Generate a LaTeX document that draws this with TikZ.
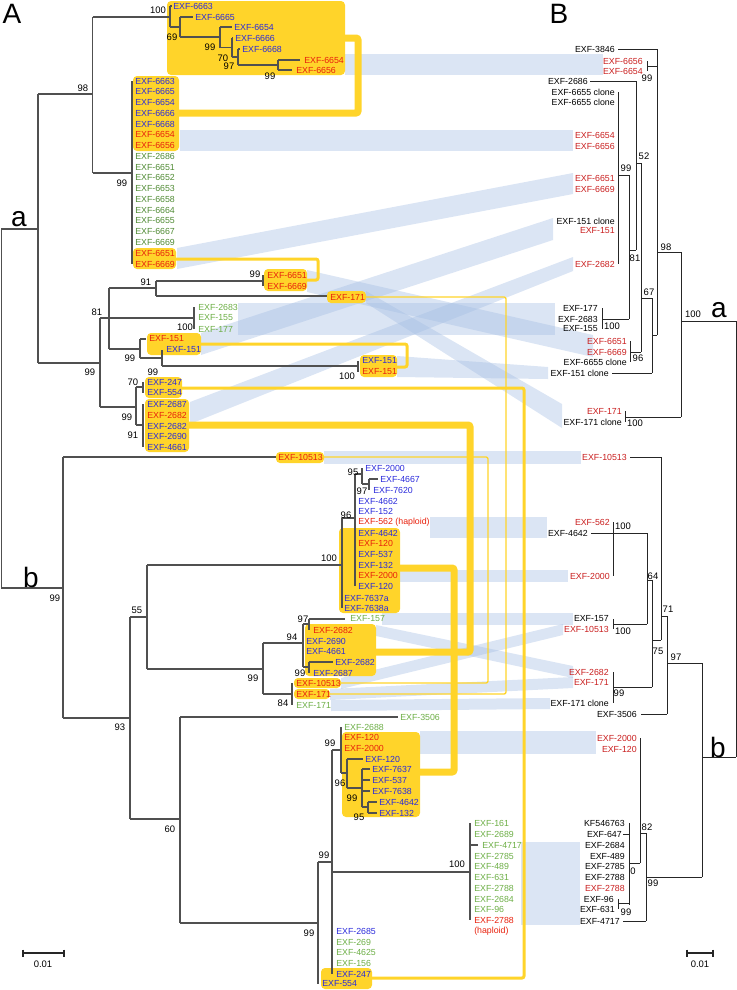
\documentclass[tikz,border=0pt]{standalone}
\usepackage{fontspec}
\setmainfont{Liberation Sans}
\definecolor{hlyel}{HTML}{FFD42A}
\definecolor{bandc}{HTML}{A5BEE3}
\definecolor{lblue}{HTML}{2A2ADB}
\definecolor{lred}{HTML}{E8200C}
\definecolor{bred}{HTML}{C91E1E}
\definecolor{lgreen}{HTML}{4F8A33}
\definecolor{lgreen2}{HTML}{6CAE45}
\definecolor{treeA}{HTML}{505050}
\definecolor{treeB}{HTML}{262626}
\newcommand{\lfont}{\fontsize{6.6}{8}\selectfont}
\newcommand{\nfont}{\fontsize{7.1}{8}\selectfont}
\newcommand{\bigfont}{\fontsize{21}{24}\selectfont}

\begin{document}
\begin{tikzpicture}[x=0.75pt,y=-0.75pt,
  la/.style={anchor=west,inner sep=0,font=\lfont},
  lb/.style={anchor=east,inner sep=0,font=\lfont},
  lbl/.style={la,text=lblue}, lrd/.style={la,text=lred}, lgn/.style={la,text=lgreen}, llg/.style={la,text=lgreen2},
  rbk/.style={lb,text=black}, rrd/.style={lb,text=bred},
  bs/.style={inner sep=0,font=\nfont},
  bra/.style={treeA,line width=1pt},
  brb/.style={treeB,line width=0.75pt},
  hl/.style={fill=hlyel,rounded corners=3pt},
  lk/.style={draw=hlyel,rounded corners=1.5pt},
  band/.style={fill=bandc,opacity=0.4}]
\useasboundingbox (0,0) rectangle (737,990);
\fill[band] (345,54) rectangle (603,75); \fill[band] (180,130) rectangle (573,151);
\fill[band] (177,248) -- (573,173) -- (573,194) -- (177,269) -- cycle;
\fill[band] (201,333) -- (553,218) -- (553,240) -- (201,355) -- cycle;
\fill[band] (190,402) -- (573,257) -- (573,271) -- (190,424) -- cycle;
\fill[band] (238,303) rectangle (555,335);
\fill[band] (397,356) -- (548,367) -- (548,379) -- (397,377) -- cycle;
\fill[band] (366,291) -- (562,404) -- (562,428) -- (366,303) -- cycle;
\fill[band] (307,270) -- (593,335) -- (593,357) -- (307,292) -- cycle;
\fill[band] (324,451) rectangle (581,464); \fill[band] (430,517) rectangle (547,538);
\fill[band] (400,570) rectangle (568,582); \fill[band] (382,613) rectangle (573,625);
\fill[band] (376,625) -- (573,666) -- (573,678) -- (376,636) -- cycle;
\fill[band] (341,678) -- (563,624) -- (563,635) -- (341,689) -- cycle;
\fill[band] (330,689) -- (573,677) -- (573,688) -- (330,700) -- cycle;
\fill[band] (331,700) -- (550,698) -- (550,709) -- (331,711) -- cycle;
\fill[band] (420,731) rectangle (596,754); \fill[band] (521,842) rectangle (580,925);
\fill[hl] (167,1) rectangle (345,75); \fill[hl] (133,76) rectangle (179,151); \fill[hl] (133,248) rectangle (176,269);
\fill[hl] (264,269) rectangle (307,291); \fill[hl] (327,291) rectangle (366,303);
\fill[hl] (147,333) rectangle (201,355); \fill[hl] (360,355) rectangle (397,377);
\fill[hl] (145,377) rectangle (182,398); \fill[hl] (145,399) rectangle (189,452);
\fill[hl] (276,452) rectangle (324,463); \fill[hl] (339,528) rectangle (400,613);
\fill[hl] (305,624) rectangle (376,676); \fill[hl] (294,678) rectangle (341,688); \fill[hl] (294,689) rectangle (330,699);
\fill[hl] (342,732) rectangle (420,817); \fill[hl] (321,968) rectangle (372,989);
\draw[lk,line width=5.25pt] (179,113) -- (358,113) -- (358,38) -- (345,38);
\draw[lk,line width=2.25pt] (176,259) -- (318,259) -- (318,280) -- (307,280);
\draw[lk,line width=1pt] (366,297) -- (506,297) -- (506,694) -- (330,694);
\draw[lk,line width=2.25pt] (201,344) -- (407,344) -- (407,367) -- (397,367);
\draw[lk,line width=2.25pt] (182,388) -- (524,388) -- (524,978) -- (372,978);
\draw[lk,line width=5.25pt] (189,425) -- (470,425) -- (470,652) -- (376,652);
\draw[lk,line width=1pt] (324,457) -- (488,457) -- (488,683) -- (341,683);
\draw[lk,line width=5.25pt] (400,568) -- (454,568) -- (454,772) -- (420,772);
\draw[bra] (38,229) -- (1.5,229) -- (1.5,588) -- (63,588) (38,94) -- (38,363) (38,94) -- (92.7,94) (38,363) -- (100,363) (92.7,17) -- (92.7,173)
 (92.7,17) -- (170,17) (170,6) -- (170,27) (170,6) -- (172,6) (170,27) -- (180,27) (180,17) -- (180,37) (180,17) -- (193,17) (180,37) -- (220,37)
 (220,27) -- (220,47.5) (220,27) -- (232,27) (220,47.5) -- (232,47.5) (232,38) -- (232,57) (232,38) -- (233,38) (232,57) -- (238,57)
 (238,49) -- (238,65) (238,49) -- (240,49) (238,65) -- (278,65) (278,60) -- (278,70) (278,60) -- (300,60) (278,70) -- (292,70)
 (92.7,173) -- (132,173) (132,81) -- (132,264)
 (100,318) -- (100,407) (100,318) -- (109,318) (109,288) -- (109,349) (109,288) -- (156,288) (156,281) -- (156,296) (156,281) -- (263,281) (263,275) -- (263,286) (156,296) -- (327,296)
 (109,318) -- (194,318) (194,307) -- (194,329)
 (109,349) -- (140,349) (140,339) -- (140,358) (140,339) -- (146,339) (140,358) -- (162,358) (162,350) -- (162,366) (162,366) -- (358,366) (358,361) -- (358,372)
 (100,407) -- (136,407) (136,387) -- (136,425) (136,387) -- (143,387) (143,382) -- (143,393) (136,425) -- (143,425) (143,404) -- (143,447)
 (63,457) -- (63,718) (63,457) -- (276,457) (63,718) -- (130,718) (130,617) -- (130,819)
 (130,617) -- (147,617) (147,565) -- (147,669) (147,565) -- (342,565) (342,518) -- (342,608) (342,518) -- (355,518) (355,474) -- (355,586)
 (355,474) -- (362,474) (362,468) -- (362,484) (362,484) -- (369,484) (369,479) -- (369,490) (369,479) -- (378,479)
 (147,669) -- (263,669) (263,643) -- (263,694) (263,643) -- (303,643) (303,624) -- (303,667) (303,624) -- (309,624) (309,619) -- (309,630) (309,619) -- (345,619)
 (303,667) -- (309,667) (309,662) -- (309,673) (309,662) -- (333,662) (263,694) -- (292,694) (292,683) -- (292,705)
 (130,819) -- (180,819) (180,717) -- (180,923) (180,717) -- (398,717) (180,923) -- (318,923) (318,862) -- (318,984) (318,862) -- (332,862)
 (332,750) -- (332,974) (332,750) -- (341,750) (341,727) -- (341,773) (341,773) -- (347,773) (347,759) -- (347,788) (347,759) -- (363,759)
 (347,788) -- (362,788) (362,769) -- (362,807) (362,769) -- (370,769) (362,780) -- (370,780) (362,791) -- (370,791) (362,807) -- (368,807)
 (368,802) -- (368,813) (368,802) -- (377,802) (368,813) -- (377,813) (332,872) -- (470,872) (470,823) -- (470,920) (470,845) -- (478,845);
\draw[brb] (618,49) -- (657,49) (647,61) -- (647,71) (647,66) -- (657,66) (657,49) -- (657,335) (657,252) -- (681,252)
 (590,81) -- (636,81) (636,81) -- (636,250) (636,163) -- (641,163) (641,163) -- (641,352) (641,298) -- (652,298)
 (618,92) -- (618,264) (618,175) -- (629,175) (629,175) -- (629,319) (629,250) -- (636,250) (602,319) -- (629,319) (602,308) -- (602,329)
 (630,341) -- (630,362) (630,352) -- (641,352) (652,298) -- (652,373) (612,373) -- (652,373) (652,335) -- (657,335)
 (681,252) -- (681,417) (681,321) -- (736,321) (625,411) -- (625,422) (625,417) -- (681,417) (736,321) -- (736,757) (702,757) -- (736,757)
 (630,457) -- (661,457) (661,457) -- (661,640) (661,616) -- (667,616) (667,616) -- (667,714) (641,714) -- (667,714) (667,663) -- (702,663) (702,663) -- (702,877)
 (652,580) -- (652,687) (652,640) -- (661,640) (647,580) -- (652,580) (647,533) -- (647,624) (591,533) -- (647,533) (613,522) -- (613,576)
 (613,624) -- (647,624) (613,619) -- (613,629) (613,687) -- (652,687) (613,672) -- (613,703)
 (640,738) -- (640,863) (640,833) -- (646,833) (646,833) -- (646,921) (646,877) -- (702,877) (623,921) -- (646,921) (629,863) -- (640,863)
 (629,823) -- (629,905) (623,834) -- (629,834) (618,903) -- (629,903) (618,899) -- (618,909);
\draw[treeB,line width=1.1pt] (23,953) -- (64,953) (23,949.5) -- (23,956.5) (64,949.5) -- (64,956.5);
\draw[treeB,line width=1.1pt] (687,953) -- (713,953) (687,949.5) -- (687,956.5) (713,949.5) -- (713,956.5);
\node[font=\bigfont,inner sep=0] (capA) at (12,14) {A}; \node[font=\bigfont,inner sep=0] (capB) at (559,14) {B};
\node[font=\bigfont,inner sep=0] (subAa) at (19,219) {a}; \node[font=\bigfont,inner sep=0] (subAb) at (31,577) {b};
\node[font=\bigfont,inner sep=0] (subBa) at (719,310) {a}; \node[font=\bigfont,inner sep=0] (subBb) at (718,747) {b};
\node[bs] (scA) at (43,964) {0.01}; \node[bs] (scB) at (700,964) {0.01};
\node[lbl] (t1) at (173,6) {EXF-6663}; \node[lbl] (t2) at (195,17) {EXF-6665}; \node[lbl] (t3) at (234,27) {EXF-6654};
\node[lbl] (t4) at (235,38) {EXF-6666}; \node[lbl] (t5) at (242,49) {EXF-6668}; \node[lrd] (t6) at (304,60) {EXF-6654}; \node[lrd] (t7) at (296,70) {EXF-6656};
\node[lbl] (s1) at (135,81) {EXF-6663}; \node[lbl] (s2) at (135,91.8) {EXF-6665}; \node[lbl] (s3) at (135,102.5) {EXF-6654};
\node[lbl] (s4) at (135,113.3) {EXF-6666}; \node[lbl] (s5) at (135,124) {EXF-6668}; \node[lrd] (s6) at (135,134.8) {EXF-6654};
\node[lrd] (s7) at (135,145.6) {EXF-6656}; \node[lgn] (s8) at (135,156.3) {EXF-2686}; \node[lgn] (s9) at (135,167.1) {EXF-6651};
\node[lgn] (s10) at (135,177.9) {EXF-6652}; \node[lgn] (s11) at (135,188.6) {EXF-6653}; \node[lgn] (s12) at (135,199.4) {EXF-6658};
\node[lgn] (s13) at (135,210.1) {EXF-6664}; \node[lgn] (s14) at (135,220.9) {EXF-6655}; \node[lgn] (s15) at (135,231.7) {EXF-6667};
\node[lgn] (s16) at (135,242.4) {EXF-6669}; \node[lrd] (s17) at (135,253.2) {EXF-6651}; \node[lrd] (s18) at (135,264) {EXF-6669};
\node[lrd] (u1) at (267,275) {EXF-6651}; \node[lrd] (u2) at (267,286) {EXF-6669}; \node[lrd] (u3) at (330,297) {EXF-171};
\node[llg] (u4) at (198,307) {EXF-2683}; \node[llg] (u5) at (198,318) {EXF-155}; \node[llg] (u6) at (198,329) {EXF-177};
\node[lrd] (u7) at (149,339) {EXF-151}; \node[lbl] (u8) at (166,350) {EXF-151}; \node[lbl] (u9) at (362,361) {EXF-151}; \node[lrd] (u10) at (362,372) {EXF-151};
\node[lbl] (u11) at (147,382) {EXF-247}; \node[lbl] (u12) at (147,393) {EXF-554}; \node[lbl] (u13) at (147,404) {EXF-2687};
\node[lrd] (u14) at (147,415) {EXF-2682}; \node[lbl] (u15) at (147,426) {EXF-2682}; \node[lbl] (u16) at (147,436) {EXF-2690}; \node[lbl] (u17) at (147,447) {EXF-4661};
\node[lrd] (u18) at (278,457) {EXF-10513};
\node[lbl] (m1) at (365,468) {EXF-2000}; \node[lbl] (m2) at (380,479) {EXF-4667}; \node[lbl] (m3) at (373,490) {EXF-7620};
\node[lbl] (m4) at (358,501) {EXF-4662}; \node[lbl] (m5) at (358,511) {EXF-152}; \node[lrd] (m6) at (358,522) {EXF-562 (haploid)};
\node[lbl] (m7) at (358,533) {EXF-4642}; \node[lrd] (m8) at (358,543) {EXF-120}; \node[lbl] (m9) at (358,554) {EXF-537};
\node[lbl] (m10) at (358,565) {EXF-132}; \node[lrd] (m11) at (358,575) {EXF-2000}; \node[lbl] (m12) at (358,586) {EXF-120};
\node[lbl] (m13) at (344,598) {EXF-7637a}; \node[lbl] (m14) at (344,608) {EXF-7638a};
\node[llg] (n1) at (350,619) {EXF-157}; \node[lrd] (n2) at (313,630) {EXF-2682}; \node[lbl] (n3) at (306,641) {EXF-2690};
\node[lbl] (n4) at (306,651) {EXF-4661}; \node[lbl] (n5) at (335,662) {EXF-2682}; \node[lbl] (n6) at (313,673) {EXF-2687};
\node[lrd] (n7) at (296,683) {EXF-10513}; \node[lrd] (n8) at (296,694) {EXF-171}; \node[llg] (n9) at (296,705) {EXF-171};
\node[llg] (n10) at (400,717) {EXF-3506};
\node[llg] (p1) at (344,727) {EXF-2688}; \node[lrd] (p2) at (344,737) {EXF-120}; \node[lrd] (p3) at (344,748) {EXF-2000};
\node[lbl] (p4) at (365,759) {EXF-120}; \node[lbl] (p5) at (372,769) {EXF-7637}; \node[lbl] (p6) at (372,780) {EXF-537};
\node[lbl] (p7) at (372,791) {EXF-7638}; \node[lbl] (p8) at (379,802) {EXF-4642}; \node[lbl] (p9) at (379,813) {EXF-132};
\node[llg] (q1) at (474,823) {EXF-161}; \node[llg] (q2) at (474,834) {EXF-2689}; \node[llg] (q3) at (482,845) {EXF-4717};
\node[llg] (q4) at (474,856) {EXF-2785}; \node[llg] (q5) at (474,866) {EXF-489}; \node[llg] (q6) at (474,877) {EXF-631};
\node[llg] (q7) at (474,888) {EXF-2788}; \node[llg] (q8) at (474,899) {EXF-2684}; \node[llg] (q9) at (474,909) {EXF-96};
\node[lrd] (q10) at (474,920) {EXF-2788}; \node[lrd] (q11) at (474,931) {(haploid)};
\node[lbl] (r1) at (336,931) {EXF-2685}; \node[llg] (r2) at (336,942) {EXF-269}; \node[llg] (r3) at (336,952) {EXF-4625};
\node[llg] (r4) at (336,963) {EXF-156}; \node[lbl] (r5) at (336,974) {EXF-247}; \node[lbl] (r6) at (322,984) {EXF-554};
\node[rbk] (w1) at (615,49) {EXF-3846}; \node[rrd] (w2) at (643,61) {EXF-6656}; \node[rrd] (w3) at (643,71) {EXF-6654};
\node[rbk] (w4) at (588,81) {EXF-2686}; \node[rbk] (w5) at (615,92) {EXF-6655 clone}; \node[rbk] (w6) at (615,102) {EXF-6655 clone};
\node[rrd] (w7) at (615,135) {EXF-6654}; \node[rrd] (w8) at (615,146) {EXF-6656}; \node[rrd] (w9) at (615,178) {EXF-6651};
\node[rrd] (w10) at (615,189) {EXF-6669}; \node[rbk] (w11) at (615,221) {EXF-151 clone}; \node[rrd] (w12) at (615,231) {EXF-151};
\node[rrd] (w13) at (615,264) {EXF-2682}; \node[rbk] (w14) at (598,308) {EXF-177}; \node[rbk] (w15) at (598,319) {EXF-2683};
\node[rbk] (w16) at (598,329) {EXF-155}; \node[rrd] (w17) at (627,341) {EXF-6651}; \node[rrd] (w18) at (627,352) {EXF-6669};
\node[rbk] (w19) at (627,362) {EXF-6655 clone}; \node[rbk] (w20) at (609,373) {EXF-151 clone};
\node[rrd] (w21) at (622,411) {EXF-171}; \node[rbk] (w22) at (622,422) {EXF-171 clone};
\node[rrd] (x1) at (627,457) {EXF-10513}; \node[rrd] (x2) at (610,522) {EXF-562}; \node[rbk] (x3) at (588,533) {EXF-4642};
\node[rrd] (x4) at (610,576) {EXF-2000}; \node[rbk] (x5) at (609,619) {EXF-157}; \node[rrd] (x6) at (609,629) {EXF-10513};
\node[rrd] (x7) at (609,672) {EXF-2682}; \node[rrd] (x8) at (609,682) {EXF-171}; \node[rbk] (x9) at (609,703) {EXF-171 clone};
\node[rbk] (x10) at (637,714) {EXF-3506}; \node[rrd] (x11) at (637,738) {EXF-2000}; \node[rrd] (x12) at (637,749) {EXF-120};
\node[rbk] (y1) at (625,823) {KF546763}; \node[rbk] (y2) at (622,834) {EXF-647}; \node[rbk] (y3) at (625,845) {EXF-2684};
\node[rbk] (y4) at (625,856) {EXF-489}; \node[rbk] (y5) at (625,866) {EXF-2785}; \node[rbk] (y6) at (625,877) {EXF-2788};
\node[rrd] (y7) at (625,888) {EXF-2788}; \node[rbk] (y8) at (614,899) {EXF-96}; \node[rbk] (y9) at (615,909) {EXF-631}; \node[rbk] (y10) at (620,921) {EXF-4717};
\node[bs] (v1) at (158,10) {100}; \node[bs] (v2) at (172,37) {69}; \node[bs] (v3) at (210,47) {99}; \node[bs] (v4) at (223,58) {70};
\node[bs] (v5) at (229,66) {97}; \node[bs] (v6) at (270,76) {99}; \node[bs] (v7) at (83,88) {98}; \node[bs] (v8) at (122,183) {99};
\node[bs] (v9) at (255,274) {99}; \node[bs] (v10) at (146,282) {91}; \node[bs] (v11) at (97,312) {81}; \node[bs] (v12) at (185,327) {100};
\node[bs] (v13) at (90,372) {99}; \node[bs] (v14) at (130,358) {99}; \node[bs] (v15) at (153,372) {99}; \node[bs] (v16) at (347,376) {100};
\node[bs] (v17) at (133,382) {70}; \node[bs] (v18) at (127,417) {99}; \node[bs] (v19) at (133,435) {91}; \node[bs] (v20) at (55,598) {99};
\node[bs] (v21) at (329,558) {100}; \node[bs] (v22) at (353,472) {95}; \node[bs] (v23) at (362,491) {97}; \node[bs] (v24) at (346,515) {96};
\node[bs] (v25) at (137,610) {55}; \node[bs] (v26) at (303,619) {97}; \node[bs] (v27) at (292,637) {94}; \node[bs] (v28) at (300,673) {99};
\node[bs] (v29) at (253,678) {99}; \node[bs] (v30) at (283,703) {84}; \node[bs] (v31) at (120,727) {93}; \node[bs] (v32) at (170,829) {60};
\node[bs] (v33) at (330,743) {99}; \node[bs] (v34) at (340,783) {96}; \node[bs] (v35) at (352,798) {99}; \node[bs] (v36) at (359,817) {95};
\node[bs] (v37) at (324,855) {99}; \node[bs] (v38) at (457,864) {100}; \node[bs] (v39) at (309,933) {99};
\node[bs] (z1) at (647,78) {99}; \node[bs] (z2) at (666,247) {98}; \node[bs] (z3) at (644,156) {52}; \node[bs] (z4) at (626,168) {99};
\node[bs] (z5) at (635,258) {81}; \node[bs] (z6) at (649,292) {67}; \node[bs] (z7) at (612,326) {100}; \node[bs] (z8) at (638,358) {96};
\node[bs] (z9) at (693,314) {100}; \node[bs] (z10) at (635,423) {100}; \node[bs] (z11) at (623,526) {100}; \node[bs] (z12) at (653,576) {64};
\node[bs] (z13) at (623,631) {100}; \node[bs] (z14) at (668,609) {71}; \node[bs] (z15) at (658,651) {75}; \node[bs] (z16) at (676,657) {97};
\node[bs] (z17) at (619,693) {99}; \node[bs] (z18) at (647,827) {82}; \node[bs] (z19) at (653,883) {99}; \node[bs] (z20) at (633,871) {0};
\node[bs] (z21) at (626,912) {99};
\end{tikzpicture}
\end{document}
